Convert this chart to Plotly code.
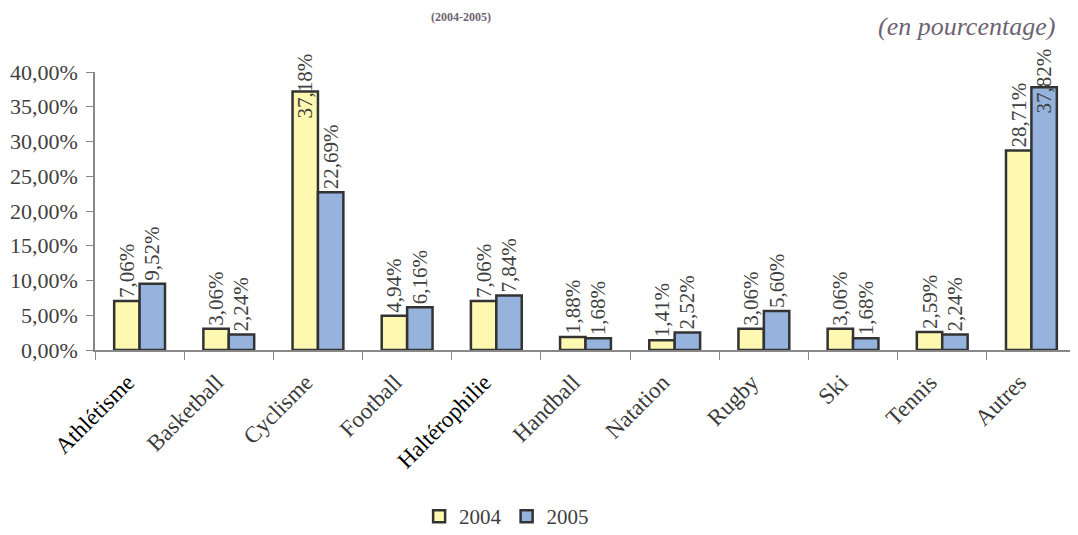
import plotly.graph_objects as go

categories = ["Athlétisme", "Basketball", "Cyclisme", "Football", "Haltérophilie",
              "Handball", "Natation", "Rugby", "Ski", "Tennis", "Autres"]
values_2004 = [7.06, 3.06, 37.18, 4.94, 7.06, 1.88, 1.41, 3.06, 3.06, 2.59, 28.71]
values_2005 = [9.52, 2.24, 22.69, 6.16, 7.84, 1.68, 2.52, 5.60, 1.68, 2.24, 37.82]
y_ticks = [0, 5, 10, 15, 20, 25, 30, 35, 40]
dark_labels = ["Athlétisme", "Haltérophilie"]

FONT = "Liberation Serif"
TXT = "#404040"
Y_MAX = 40
CLAMP = 35  # labels of bars taller than this are pulled back into the chart (as in Excel)

def lab(v):
    return f"{v:.2f}".replace(".", ",") + "%"

fig = go.Figure()
series = [("2004", values_2004, "#FFF8B0", -13), ("2005", values_2005, "#95B3DC", 13)]
for name, vals, col, shift in series:
    fig.add_trace(go.Bar(
        x=categories, y=vals, name=name,
        marker=dict(color=col, line=dict(color="#333333", width=2.5)),
        text=[lab(v) for v in vals],
        textposition=["none" if v > CLAMP else "outside" for v in vals],
        textangle=-90,
        textfont=dict(family=FONT, size=21, color=TXT),
        constraintext="none", cliponaxis=False,
    ))
    for c, v in zip(categories, vals):
        if v > CLAMP:
            fig.add_annotation(x=c, y=v, xref="x", yref="y", text=lab(v), textangle=-90,
                               showarrow=False, xanchor="center", yanchor="middle",
                               xshift=shift, yshift=6,
                               font=dict(family=FONT, size=21, color=TXT))

fig.update_layout(
    width=1070, height=527,
    margin=dict(l=87, r=2, t=64, b=185, autoexpand=False),
    paper_bgcolor="white", plot_bgcolor="white",
    barmode="group", bargap=0.43, bargroupgap=0,
    font=dict(family=FONT, color=TXT, size=20),
    showlegend=True,
    legend=dict(orientation="h", x=0.466, xanchor="center", xref="container",
                y=0.035, yref="container", yanchor="middle",
                font=dict(family=FONT, size=21, color=TXT),
                itemwidth=30, traceorder="normal", tracegroupgap=0),
)
fig.add_annotation(text="<b>(2004-2005)</b>", xref="paper", yref="paper",
                   x=0.373, y=1.23, showarrow=False, xanchor="center", yanchor="top",
                   font=dict(family=FONT, size=12, color="#6E6373"))
fig.add_annotation(text="<i>(en pourcentage)</i>", xref="paper", yref="paper",
                   x=0.9806, y=1.162, xanchor="right", yanchor="middle", showarrow=False,
                   font=dict(family=FONT, size=26, color="#6E6373"))

fig.update_yaxes(range=[0, Y_MAX], tickvals=y_ticks,
                 ticktext=[lab(v) for v in y_ticks],
                 showgrid=False, showline=True, linecolor="#888888", linewidth=1.5,
                 ticks="outside", ticklen=7, tickcolor="#888888", zeroline=False,
                 ticklabelstandoff=4,
                 tickfont=dict(family=FONT, size=22, color=TXT))
fig.update_xaxes(showline=True, linecolor="#888888", linewidth=1.5, tickangle=-45,
                 ticks="outside", ticklen=8, tickcolor="#888888", tickson="boundaries",
                 tickvals=categories,
                 ticktext=[f'<span style="color:#000000">{c}</span>' if c in dark_labels else c
                           for c in categories],
                 ticklabelshift=-12, ticklabelstandoff=8,
                 tickfont=dict(family=FONT, size=23, color="#3a3a3a"), showgrid=False)

fig.write_html("out.html")
